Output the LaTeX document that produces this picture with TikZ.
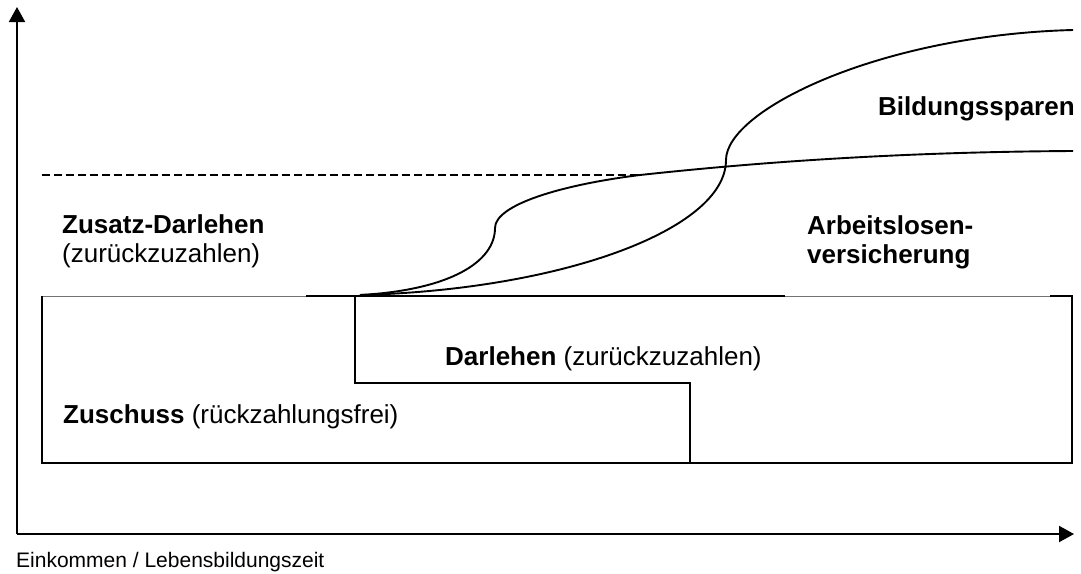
\documentclass[tikz,border=0pt]{standalone}
\usepackage{fontspec}
\setmainfont{Liberation Sans}
\usetikzlibrary{arrows.meta}
\begin{document}
\begin{tikzpicture}[x=1pt,y=-1pt,
  axis/.style={line width=2pt,-{Triangle[length=15pt,width=16pt]}},
  boxline/.style={line width=2pt},
  thinline/.style={line width=1pt,black!55},
  curveline/.style={line width=1.9pt},
  dashline/.style={line width=1.5pt,dash pattern=on 8pt off 4pt},
  lbl/.style={anchor=base west,inner sep=0pt,font=\fontsize{26}{30}\selectfont},
  axlbl/.style={anchor=base west,inner sep=0pt,font=\fontsize{21}{25}\selectfont}]
\useasboundingbox (0,0) rectangle (1081,573);
% axes
\coordinate (O) at (17,534);
\coordinate (ytop) at (17,7);
\coordinate (xend) at (1074,534);
\draw[axis] (O) -- (ytop);
\draw[axis] (O) -- (xend);
% boxes
\draw[thinline] (42,296) -- (306,296);
\draw[thinline] (785,296) -- (1050,296);
\draw[boxline] (306,296) -- (785,296);
\draw[boxline] (1050,296) -- (1072,296) -- (1072,463) -- (42,463) -- (42,296);
\draw[boxline] (355,296) -- (355,383) -- (690,383) -- (690,463);
% dashed line
\draw[dashline] (42,175) -- (638,175);
% curves
\draw[curveline] (360,295) .. controls (450,290) and (495,262) .. (495,228)
  .. controls (495,205) and (560,185) .. (640,175)
  .. controls (760,162) and (900,152) .. (1073,151);
\draw[curveline] (360,295) .. controls (560,290) and (726,230) .. (726,160)
  .. controls (726,110) and (880,35) .. (1073,30);
% labels
\node[lbl] (bs) at (878,115) {\bfseries Bildungssparen};
\node[lbl] (zd1) at (62,233) {\bfseries Zusatz-Darlehen};
\node[lbl] (zd2) at (62,262) {(zurückzuzahlen)};
\node[lbl] (al1) at (807,234) {\bfseries Arbeitslosen-};
\node[lbl] (al2) at (807,263) {\bfseries versicherung};
\node[lbl] (dl) at (445,365) {\textbf{Darlehen} (zurückzuzahlen)};
\node[lbl] (zs) at (63,423) {\textbf{Zuschuss} (rückzahlungsfrei)};
\node[axlbl] (ek) at (16,567) {Einkommen / Lebensbildungszeit};
\end{tikzpicture}
\end{document}
